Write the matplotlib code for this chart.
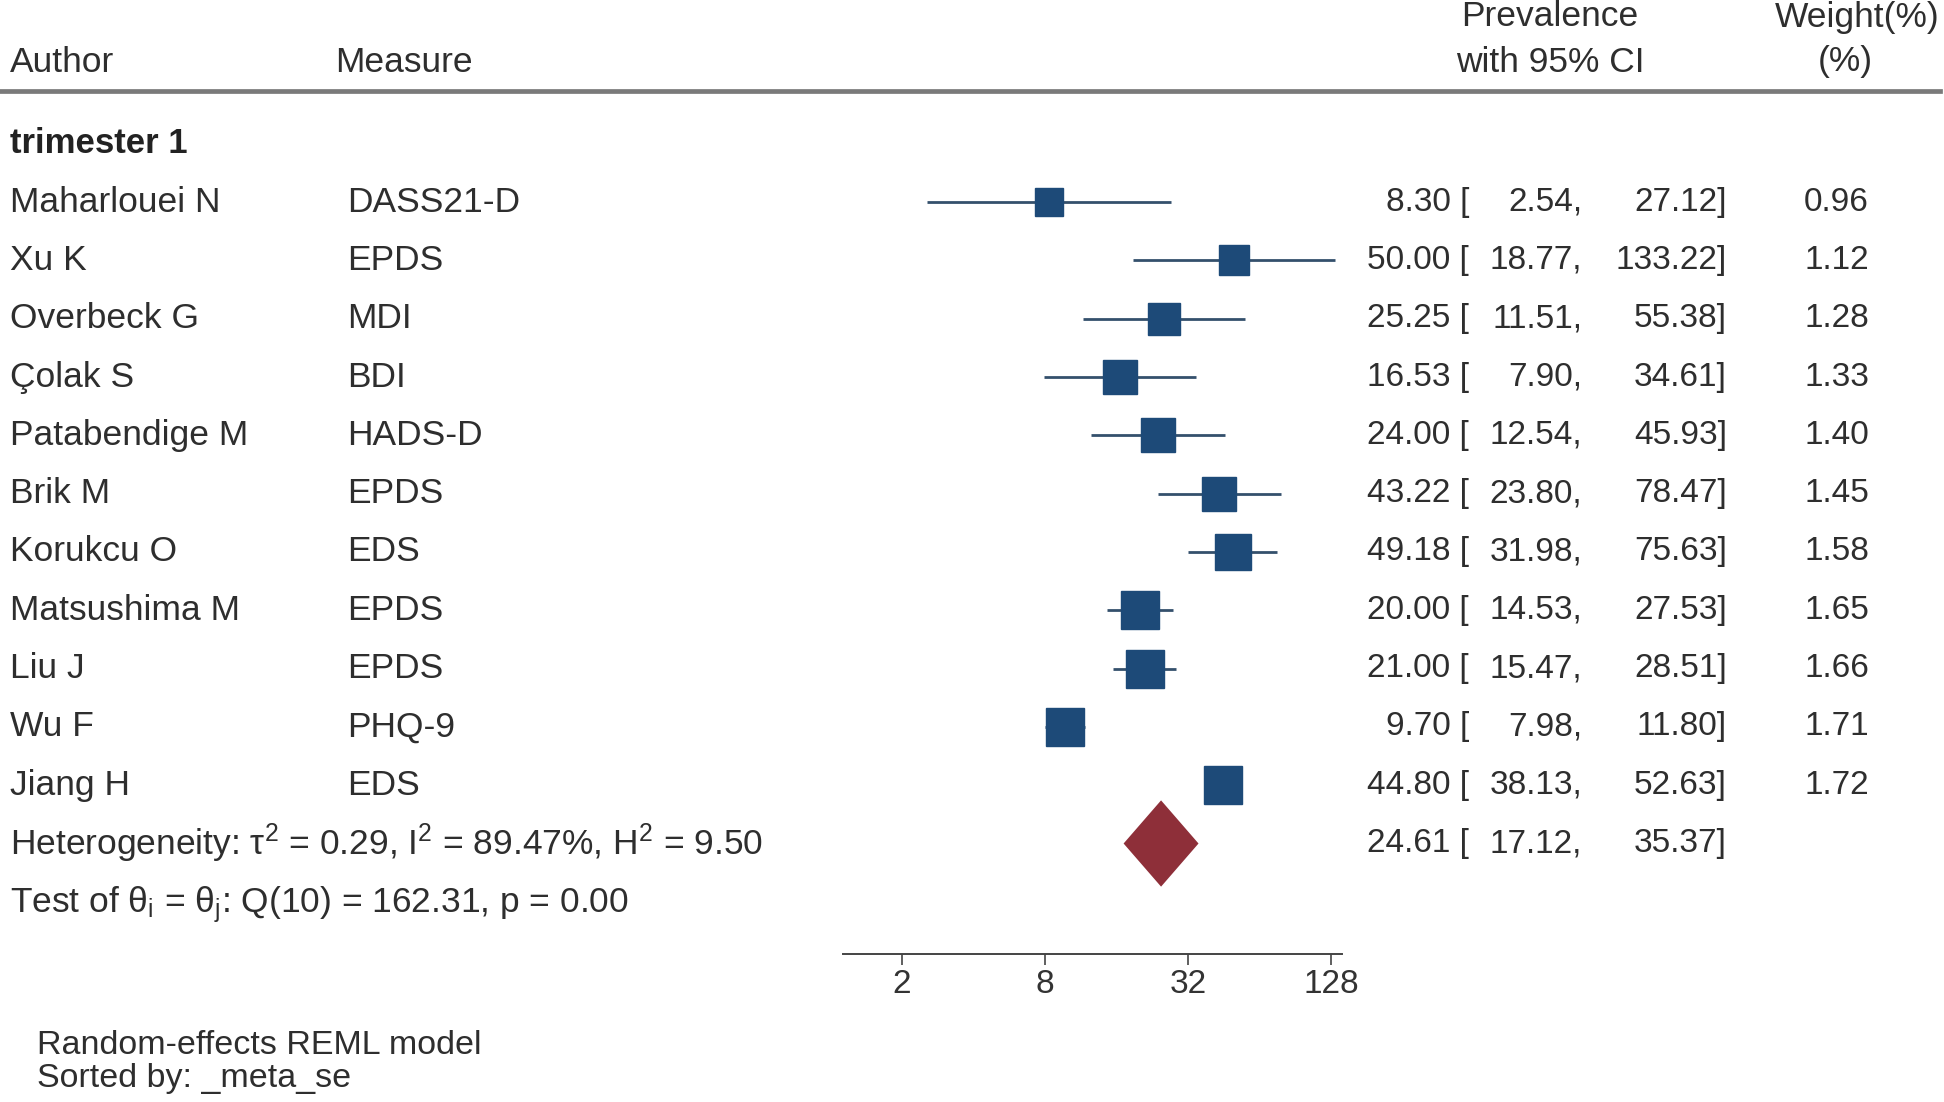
import numpy as np
import matplotlib
matplotlib.use("Agg")
import matplotlib.pyplot as plt
import matplotlib.transforms as mtransforms
from matplotlib.lines import Line2D

plt.rcParams['font.family'] = ['Liberation Sans', 'DejaVu Sans']
plt.rcParams['mathtext.fontset'] = 'custom'
plt.rcParams['mathtext.rm'] = 'Liberation Sans'
plt.rcParams['mathtext.it'] = 'Liberation Sans:italic'

# study data, trimester 1
authors = ["Maharlouei N", "Xu K", "Overbeck G", "Çolak S", "Patabendige M", "Brik M",
           "Korukcu O", "Matsushima M", "Liu J", "Wu F", "Jiang H"]
measures = ["DASS21-D", "EPDS", "MDI", "BDI", "HADS-D", "EPDS",
            "EDS", "EPDS", "EPDS", "PHQ-9", "EDS"]
prev = [8.30, 50.00, 25.25, 16.53, 24.00, 43.22, 49.18, 20.00, 21.00, 9.70, 44.80]
lower = [2.54, 18.77, 11.51, 7.90, 12.54, 23.80, 31.98, 14.53, 15.47, 7.98, 38.13]
upper = [27.12, 133.22, 55.38, 34.61, 45.93, 78.47, 75.63, 27.53, 28.51, 11.80, 52.63]
weight = [0.96, 1.12, 1.28, 1.33, 1.40, 1.45, 1.58, 1.65, 1.66, 1.71, 1.72]

# pooled estimate and heterogeneity
overall = [24.61, 17.12, 35.37]
tau2, i2, h2 = 0.29, 89.47, 9.50
q_df, q_stat, p_val = 10, 162.31, 0.00

xticks = [2, 8, 32, 128]

W, H = 1944, 1102
fig = plt.figure(figsize=(W / 100, H / 100), dpi=100)
fx = lambda px: px / W
fy = lambda py: 1 - py / H

ax = fig.add_axes([fx(843), fy(954), (1342 - 843) / W, (954 - 91) / H])
ax.set_xscale('log')
ax.set_xlim(1.13, 142)
ax.set_ylim(13.895, -0.906)
for s in ['top', 'right', 'left']:
    ax.spines[s].set_visible(False)
ax.spines['bottom'].set_color('#444444')
ax.spines['bottom'].set_linewidth(1.4)
ax.set_yticks([])
ax.set_xticks(xticks)
ax.set_xticklabels([str(t) for t in xticks])
ax.xaxis.set_minor_locator(matplotlib.ticker.NullLocator())
ax.tick_params(axis='x', length=8, width=1.2, color='#444444', pad=3,
               labelsize=24, labelcolor='#333333')

txt = '#2e2e2e'
fs = 25.5   # labels
fn = 24     # numbers
trans = mtransforms.blended_transform_factory(fig.transFigure, ax.transData)

rows = np.arange(1, len(authors) + 1)
sq = '#1d4a78'
line_c = '#34506c'

ax.hlines(rows, lower, upper, color=line_c, lw=2.0, zorder=2)
for r, p, w in zip(rows, prev, weight):
    ax.plot(p, r, marker='s', ms=20.5 * np.sqrt(w / 0.96), color=sq,
            mec=sq, zorder=3, clip_on=False)

# pooled diamond
yd = len(authors) + 1
est, lo, hi = overall
ax.fill([lo, est, hi, est], [yd, yd - 0.74, yd, yd + 0.74], color='#8e2f39',
        lw=0, zorder=3)

# header
fig.text(fx(10), fy(62), "Author", fontsize=fs, color=txt, va='center')
fig.text(fx(335), fy(62), "Measure", fontsize=fs, color=txt, va='center')
fig.text(fx(1550), fy(17), "Prevalence", fontsize=fs, color=txt, va='center', ha='center')
fig.text(fx(1550), fy(62), "with 95% CI", fontsize=fs, color=txt, va='center', ha='center')
fig.text(fx(1940), fy(17), "Weight(%)", fontsize=fs, color=txt, va='center', ha='right')
fig.text(fx(1845), fy(62), "(%)", fontsize=fs, color=txt, va='center', ha='center')
fig.add_artist(Line2D([0, fx(1940)], [fy(91), fy(91)], color='#7a7a7a', lw=3.4,
                      transform=fig.transFigure))

ax.text(fx(10), 0, "trimester 1", transform=trans, fontsize=fs - 0.5, color='#222222',
        fontweight='bold', va='center')

for r, a, m, p, lo_, hi_, w in zip(rows, authors, measures, prev, lower, upper, weight):
    ax.text(fx(10), r, a, transform=trans, fontsize=fs, color=txt, va='center')
    ax.text(fx(347), r, m, transform=trans, fontsize=fs, color=txt, va='center')
    ax.text(fx(1469), r, f"{p:.2f} [", transform=trans, fontsize=fn, color=txt,
            va='center', ha='right')
    ax.text(fx(1582), r, f"{lo_:.2f},", transform=trans, fontsize=fn, color=txt,
            va='center', ha='right')
    ax.text(fx(1727), r, f"{hi_:.2f}]", transform=trans, fontsize=fn, color=txt,
            va='center', ha='right')
    ax.text(fx(1869), r, f"{w:.2f}", transform=trans, fontsize=fn, color=txt,
            va='center', ha='right')

ax.text(fx(10), yd,
        "Heterogeneity: τ$^\\mathrm{2}$ = %.2f, I$^\\mathrm{2}$ = %.2f%%, H$^\\mathrm{2}$ = %.2f"
        % (tau2, i2, h2), transform=trans, fontsize=fs, color=txt, va='center')
ax.text(fx(1469), yd, f"{est:.2f} [", transform=trans, fontsize=fn, color=txt,
        va='center', ha='right')
ax.text(fx(1582), yd, f"{lo:.2f},", transform=trans, fontsize=fn, color=txt,
        va='center', ha='right')
ax.text(fx(1727), yd, f"{hi:.2f}]", transform=trans, fontsize=fn, color=txt,
        va='center', ha='right')
ax.text(fx(10), yd + 1.05,
        "Test of θ$_\\mathrm{i}$ = θ$_\\mathrm{j}$: Q(%d) = %.2f, p = %.2f" % (q_df, q_stat, p_val),
        transform=trans, fontsize=fs, color=txt, va='center')

# footer
fig.text(fx(37), fy(1045), "Random-effects REML model", fontsize=24.5, color=txt, va='center')
fig.text(fx(37), fy(1079), "Sorted by: _meta_se", fontsize=24.5, color=txt, va='center')

fig.savefig("out.png", dpi=100, facecolor='white')
